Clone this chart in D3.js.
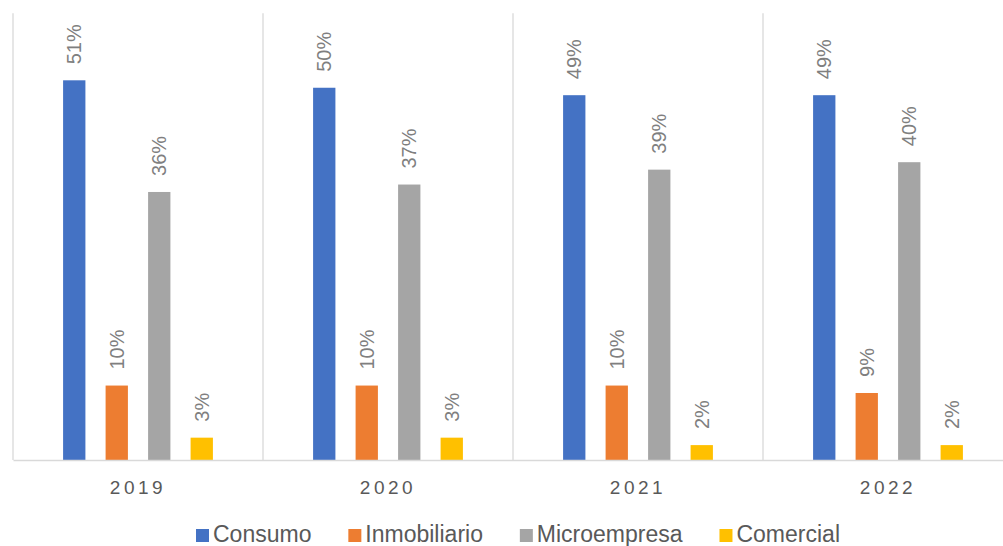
<!DOCTYPE html>
<html>
<head>
<meta charset="utf-8">
<script src="https://cdn.jsdelivr.net/npm/d3@7"></script>
<style>
  html, body { margin: 0; padding: 0; background: #fff; }
  svg { display: block; font-family: "Liberation Sans", Arial, sans-serif; }
</style>
</head>
<body>
<svg id="chart" width="1003" height="546"></svg>
<script>
const years = ["2019", "2020", "2021", "2022"];
const seriesNames = ["Consumo", "Inmobiliario", "Microempresa", "Comercial"];
const consumo = [0.51, 0.50, 0.49, 0.49];
const inmobiliario = [0.10, 0.10, 0.10, 0.09];
const microempresa = [0.36, 0.37, 0.39, 0.40];
const comercial = [0.03, 0.03, 0.02, 0.02];
const colors = ["#4472C4", "#ED7D31", "#A5A5A5", "#FFC000"];

const seriesValues = [consumo, inmobiliario, microempresa, comercial];

const svg = d3.select("#chart");
const plotLeft = 13, plotRight = 1013, plotTop = 13.3, plotBottom = 460;

const x0 = d3.scaleBand().domain(years).range([plotLeft, plotRight]).paddingInner(0).paddingOuter(0);
const x1 = d3.scaleBand().domain(seriesNames).range([0, x0.bandwidth()]).paddingInner(0.475).paddingOuter(1.1787);
const y = d3.scaleLinear().domain([0, 0.6]).range([plotBottom, plotTop]);

// vertical separators
const seps = years.map(d => x0(d)).concat([plotRight]);
svg.append("g").selectAll("line").data(seps).join("line")
  .attr("x1", d => d).attr("x2", d => d)
  .attr("y1", plotTop).attr("y2", plotBottom)
  .attr("stroke", "#d9d9d9").attr("stroke-width", 1.3);

// bars
const groups = svg.append("g").selectAll("g").data(years).join("g")
  .attr("transform", d => `translate(${x0(d)},0)`);

groups.each(function(yr, i) {
  const g = d3.select(this);
  const data = seriesNames.map((s, k) => ({ s, k, v: seriesValues[k][i] }));
  g.selectAll("rect").data(data).join("rect")
    .attr("x", d => x1(d.s))
    .attr("y", d => y(d.v))
    .attr("width", x1.bandwidth())
    .attr("height", d => plotBottom - y(d.v))
    .attr("fill", d => colors[d.k]);
  g.selectAll("text").data(data).join("text")
    .attr("transform", d => `translate(${x1(d.s) + x1.bandwidth() / 2},${y(d.v) - 16}) rotate(-90)`)
    .attr("text-anchor", "start")
    .attr("dominant-baseline", "central")
    .attr("font-size", 20)
    .attr("fill", "#7f7f7f")
    .text(d => Math.round(d.v * 100) + "%");
});

// x axis
const xAxis = d3.axisBottom(x0).tickSize(0).tickPadding(0);
const ax = svg.append("g").attr("transform", `translate(0,${plotBottom})`).call(xAxis);
ax.select(".domain").attr("stroke", "#d9d9d9").attr("stroke-width", 1.3);
ax.selectAll("text")
  .attr("y", 34)
  .attr("dy", 0)
  .attr("font-size", 19)
  .attr("font-family", "Liberation Sans, Arial, sans-serif")
  .attr("fill", "#595959")
  .style("letter-spacing", "3.5px");

// legend
const legend = svg.append("g");
const items = legend.selectAll("g").data(seriesNames).join("g");
items.append("rect").attr("width", 13).attr("height", 13).attr("y", 529)
  .attr("fill", (d, i) => colors[i]);
items.append("text").attr("x", 17).attr("y", 542)
  .attr("font-size", 23).attr("fill", "#595959").text(d => d);
const widths = [];
items.each(function() {
  const w = 17 + d3.select(this).select("text").node().getComputedTextLength();
  widths.push(w);
});
const legendStart = 196, legendEnd = 840;
const gap = (legendEnd - legendStart - d3.sum(widths)) / (widths.length - 1);
let start = legendStart;
items.attr("transform", (d, i) => {
  const t = `translate(${start},0)`;
  start += widths[i] + gap;
  return t;
});
</script>
</body>
</html>
